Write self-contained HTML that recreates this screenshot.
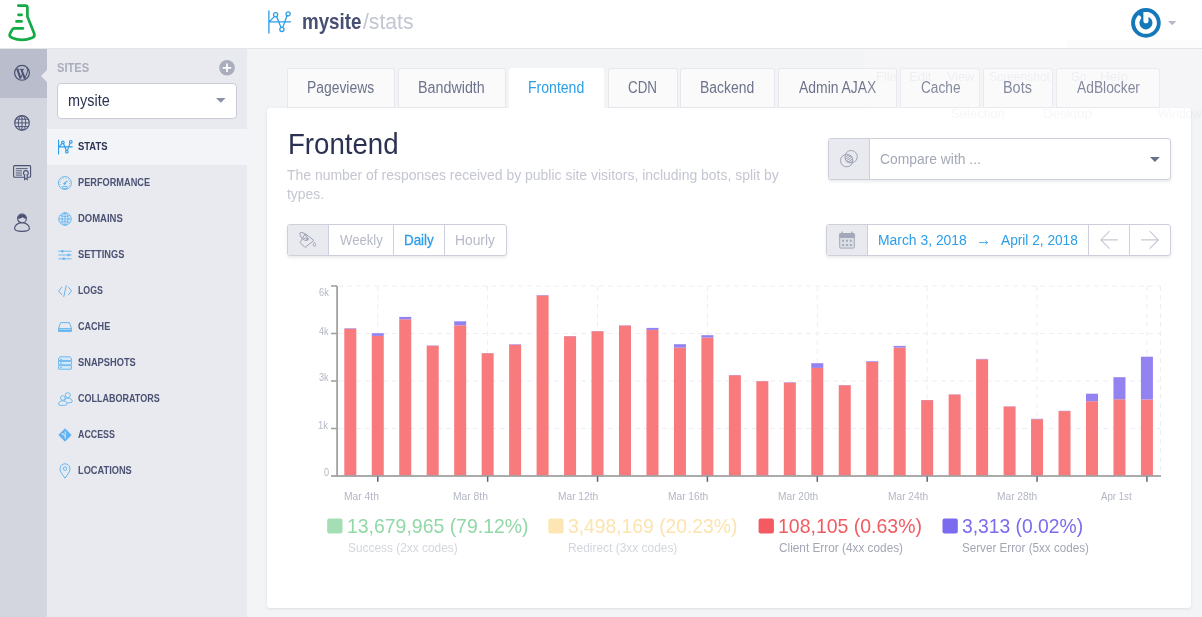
<!DOCTYPE html>
<html lang="en">
<head>
<meta charset="utf-8">
<title>mysite / stats</title>
<style>
*{box-sizing:border-box;margin:0;padding:0}
html,body{width:1202px;height:617px;overflow:hidden}
body{position:relative;background:#f3f4f6;font-family:"Liberation Sans",sans-serif;}
.t{position:absolute;white-space:nowrap;line-height:1;transform-origin:0 0;display:block}
#root{position:absolute;left:0;top:0;width:1202px;height:617px;will-change:transform}
#header{position:absolute;left:0;top:0;width:1202px;height:49px;background:#fff;border-bottom:1px solid #e3e5ea}
#iconcol{position:absolute;left:0;top:49px;width:47px;height:568px;background:#d3d5df}
#iconact{position:absolute;left:0;top:49px;width:47px;height:49px;background:#babecc}
#notch{position:absolute;left:41px;top:70px;width:0;height:0;border-top:6px solid transparent;border-bottom:6px solid transparent;border-right:6px solid #e9eaef}
#sidebar{position:absolute;left:47px;top:49px;width:200px;height:568px;background:#e9eaef}
#menuact{position:absolute;left:47px;top:129px;width:200px;height:36px;background:#f3f4f7}
#select{position:absolute;left:57px;top:83px;width:180px;height:36px;background:#fff;border:1px solid #c9ccd8;border-radius:4px}
.tab{position:absolute;top:68px;height:40px;background:#fafafb;border:1px solid #e6e8ed;border-bottom:1px solid #e7e9ee;border-radius:3px 3px 0 0}
.tab.on{background:#fff;border-color:#fff;z-index:3;height:44px}
#card{position:absolute;left:267px;top:108px;width:924px;height:500px;background:#fff;border-radius:3px;box-shadow:0 1px 3px rgba(60,70,100,.12);z-index:2}
#front{position:absolute;left:0;top:0;width:1202px;height:617px;z-index:5}
.grp{position:absolute;background:#fff;border:1px solid #cdd0db;border-radius:3px;box-shadow:0 2px 3px rgba(60,70,100,.10);overflow:hidden}
.addon{position:absolute;left:0;top:0;bottom:0;background:#e9eaef;border-right:1px solid #cdd0db}
.sep{position:absolute;top:0;bottom:0;width:1px;background:#cdd0db}
.sq{position:absolute;width:15.4px;height:15px;border-radius:2px;top:518.6px}
svg{position:absolute;overflow:visible}
</style>
</head>
<body>
<div id="root">
<div id="header"></div>
<div id="iconcol"></div><div id="iconact"></div>
<div id="sidebar"></div><div id="menuact"></div><div id="notch"></div>
<svg style="left:0;top:0" width="48" height="48" viewBox="0 0 48 48" fill="none" stroke="#14ab45" stroke-width="2.7" stroke-linecap="round" stroke-linejoin="round">
<path d="M18.3 5.6H25.4Q27.4 5.6 27.4 7.6V16.4L34.2 33.6Q35.2 36.6 32.3 37.7Q22 42.2 11.8 37.7Q8.8 36.4 10 33.6L12.2 29.6Q12.8 28.4 14.2 28.4H22.9"/>
<path d="M18.5 14.8H21.6M16.5 21.4H21.6"/>
</svg>
<svg style="left:268px;top:11.2px" width="23" height="22" viewBox="0 0 23 22" fill="none" stroke="#2b9eea" stroke-width="1.3" stroke-linecap="round"><path d="M0.9 0V22M0.9 10.8H22.5"/><path d="M1.2 10.8L6.4 5.6M8.6 5.6L13 16.4M14.8 16.4L19 4.8"/><circle cx="7.6" cy="3.8" r="2.1"/><circle cx="13.9" cy="18.4" r="2.1"/><circle cx="20.1" cy="2.9" r="2.1"/></svg>
<span class="t" style="left:301.93px;top:10.78px;font-size:22px;color:#475070;font-weight:700;transform:scaleX(0.8527);">mysite</span>
<span class="t" style="left:362.65px;top:10.78px;font-size:22px;color:#c3c6d1;transform:scaleX(0.9593);">/stats</span>
<svg style="left:1131px;top:8px" width="30" height="30" viewBox="0 0 30 30">
<circle cx="14.9" cy="14.9" r="14.8" fill="#1478b9"/>
<path d="M16 6.25A8.7 8.7 0 1 1 8 9.7" stroke="#fff" stroke-width="4.4" stroke-linecap="round" fill="none"/>
<path d="M12.4 4.05H17.5V12.8A2.55 2.55 0 0 1 12.4 12.8Z" fill="#fff"/>
</svg>
<svg style="left:1168px;top:21px" width="8.4" height="4.2" viewBox="0 0 8.4 4.2"><path d="M0 0H8.4L4.2 4.2Z" fill="#b5b9c6"/></svg>
<svg style="left:14px;top:65px" width="16" height="16" viewBox="0 0 16 16" fill="none" stroke="#4a5173">
<circle cx="8" cy="7.85" r="7.4" stroke-width="1.2"/>
<path d="M3.3 4.2L6.5 13.3M7.4 4.5L10.8 13.7" stroke-width="2"/>
<path d="M6.5 13.5L8.7 8.4M10.8 13.9L13.5 6.4Q14.1 4.2 12.6 2.9M2 4.2H5.3M5.9 4.4H10" stroke-width="1"/>
</svg>
<svg style="left:14px;top:115px" width="16" height="16" viewBox="0 0 16 16" fill="none" stroke="#4a5173" stroke-width="0.95">
<circle cx="8" cy="7.9" r="7.3" stroke-width="1.1"/>
<ellipse cx="8" cy="7.9" rx="3.7" ry="7.3"/>
<path d="M8 0.6V15.2M0.7 7.9H15.3M1.8 4.2H14.2M1.8 11.6H14.2"/>
</svg>
<svg style="left:13px;top:165px" width="18" height="16" viewBox="0 0 18 16" fill="none" stroke="#4a5173" stroke-width="1.1">
<rect x="0.6" y="0.6" width="17" height="11.6" rx="1"/>
<path d="M2.8 3.6H14.6M2.8 5.8H9M2.8 8H9M2.8 10.1H9" stroke-width="0.9"/>
<circle cx="12.9" cy="8" r="2.4" fill="#d3d5df"/>
<path d="M11.6 10V14.6L12.9 13.4L14.2 14.6V10" fill="#d3d5df"/>
</svg>
<svg style="left:14px;top:213px" width="16" height="19" viewBox="0 0 16 19" fill="none" stroke="#4a5173" stroke-width="1.1">
<path d="M8 9.6C3.5 9.6 0.6 12.6 0.6 15.6C0.6 17.6 4 18.4 8 18.4C12 18.4 15.4 17.6 15.4 15.6C15.4 12.6 12.5 9.6 8 9.6Z"/>
<circle cx="8" cy="5.4" r="4.4" fill="#d3d5df"/>
<path d="M3.6 5.6A4.4 4.4 0 0 1 12.4 5.6Q10.2 6 8.8 4.2Q6.6 6 3.6 5.6Z" fill="#4a5173" stroke="none"/>
</svg>
<span class="t" style="left:57.12px;top:61.64px;font-size:12px;color:#a9adbc;font-weight:700;transform:scaleX(0.9292);">SITES</span>
<svg style="left:219px;top:60px" width="16" height="16" viewBox="0 0 16 16"><circle cx="8" cy="7.8" r="7.8" fill="#a9adbc"/><path d="M8 3.6V12M3.8 7.8H12.2" stroke="#fff" stroke-width="1.7"/></svg>
<div id="select"></div>
<span class="t" style="left:67.91px;top:91.71px;font-size:17px;color:#2b3150;transform:scaleX(0.8485);">mysite</span>
<svg style="left:216.4px;top:98.3px" width="9.6" height="4.8" viewBox="0 0 9.6 4.8"><path d="M0 0H9.6L4.8 4.8Z" fill="#8b90a4"/></svg>
<span class="t" style="left:78.37px;top:141.09px;font-size:11px;color:#2d3354;font-weight:700;transform:scaleX(0.8572);">STATS</span>
<span class="t" style="left:78.05px;top:177.09px;font-size:11px;color:#4a5173;font-weight:700;transform:scaleX(0.8362);">PERFORMANCE</span>
<span class="t" style="left:78.03px;top:213.09px;font-size:11px;color:#4a5173;font-weight:700;transform:scaleX(0.8619);">DOMAINS</span>
<span class="t" style="left:78.37px;top:249.09px;font-size:11px;color:#4a5173;font-weight:700;transform:scaleX(0.8419);">SETTINGS</span>
<span class="t" style="left:78.08px;top:285.09px;font-size:11px;color:#4a5173;font-weight:700;transform:scaleX(0.7992);">LOGS</span>
<span class="t" style="left:78.29px;top:321.09px;font-size:11px;color:#4a5173;font-weight:700;transform:scaleX(0.8229);">CACHE</span>
<span class="t" style="left:78.37px;top:357.09px;font-size:11px;color:#4a5173;font-weight:700;transform:scaleX(0.8434);">SNAPSHOTS</span>
<span class="t" style="left:78.29px;top:393.09px;font-size:11px;color:#4a5173;font-weight:700;transform:scaleX(0.8186);">COLLABORATORS</span>
<span class="t" style="left:78.43px;top:429.09px;font-size:11px;color:#4a5173;font-weight:700;transform:scaleX(0.8061);">ACCESS</span>
<span class="t" style="left:78.05px;top:465.09px;font-size:11px;color:#4a5173;font-weight:700;transform:scaleX(0.8399);">LOCATIONS</span>
<svg style="left:58px;top:139.9px" width="14.6364" height="14" viewBox="0 0 23 22" fill="none" stroke="#2b9eea" stroke-width="1.72857" stroke-linecap="round"><path d="M0.9 0V22M0.9 10.8H22.5"/><path d="M1.2 10.8L6.4 5.6M8.6 5.6L13 16.4M14.8 16.4L19 4.8"/><circle cx="7.6" cy="3.8" r="2.1"/><circle cx="13.9" cy="18.4" r="2.1"/><circle cx="20.1" cy="2.9" r="2.1"/></svg>
<svg style="left:58px;top:176px" width="14" height="14" viewBox="0 0 14 14" fill="none" stroke="#5fb3f0" stroke-width="0.9">
<circle cx="6.9" cy="7" r="6.5"/><circle cx="6.9" cy="7" r="4.9" stroke-dasharray="1 1.55" stroke-width="0.9"/>
<path d="M6.6 7.6L9.4 4.6" stroke-width="1.2"/><circle cx="6.6" cy="7.6" r="0.9" fill="#5fb3f0"/>
<rect x="4.6" y="10.4" width="4.6" height="2" rx="0.4" fill="#e9eaef"/>
</svg>
<svg style="left:58px;top:212px" width="14" height="14" viewBox="0 0 14 14" fill="none" stroke="#5fb3f0" stroke-width="0.9">
<circle cx="7" cy="7" r="6.2"/><ellipse cx="7" cy="7" rx="3" ry="6.2"/><path d="M7 0.8V13.2M0.8 7H13.2" /><path d="M1.9 3.6Q7 5.6 12.1 3.6M1.9 10.4Q7 8.4 12.1 10.4" stroke-width="0.8"/>
</svg>
<svg style="left:58px;top:248px" width="14" height="14" viewBox="0 0 14 14" fill="none" stroke="#5fb3f0" stroke-width="0.9">
<path d="M0.4 3.2H13.6M0.4 7H13.6M0.4 10.8H13.6"/><path d="M4.4 2V4.4M10.6 5.8V8.2M5.8 9.6V12" stroke-width="1.8"/>
</svg>
<svg style="left:58px;top:284px" width="14" height="14" viewBox="0 0 14 14" fill="none" stroke="#5fb3f0" stroke-width="0.95" stroke-linecap="round" stroke-linejoin="round">
<path d="M3.8 3.2L0.6 7L3.8 10.8M10.4 3.2L13.6 7L10.4 10.8M8.2 1.6L5.8 12.6"/>
</svg>
<svg style="left:58px;top:320px" width="14" height="14" viewBox="0 0 14 14" fill="none" stroke="#5fb3f0" stroke-width="0.95" stroke-linejoin="round">
<path d="M2.6 2.6H11.4L13.5 8.4V11.4H0.5V8.4Z"/><path d="M0.5 8.6H13.5" /><path d="M1 10.4H13" stroke-width="1.6"/>
</svg>
<svg style="left:58px;top:356px" width="14" height="14" viewBox="0 0 14 14" fill="#d4e8f8" stroke="#5fb3f0" stroke-width="0.9" stroke-linejoin="round">
<path d="M2 0.8H12L13.5 2.6V4.6H0.5V2.6Z"/><rect x="0.5" y="5.4" width="13" height="3.4" rx="0.4"/><rect x="0.5" y="9.6" width="13" height="3.6" rx="0.4"/>
<path d="M2 3.4H4M2 7.1H4M2 11.4H4" stroke-width="0.8"/>
</svg>
<svg style="left:58px;top:392px" width="15" height="14" viewBox="0 0 15 14" fill="#e9eaef" stroke="#5fb3f0" stroke-width="0.9">
<circle cx="9.8" cy="3.2" r="2.5"/><path d="M6.2 10.4C6.2 7.6 7.6 6.2 9.8 6.2C12.4 6.2 14.2 7.6 14.2 9.4C14.2 10.6 12.4 10.8 9.8 10.8Z"/>
<circle cx="4.8" cy="6" r="2.3"/><path d="M0.6 12C0.6 10 2.2 8.8 4.8 8.8C7.4 8.8 9 10 9 12C9 13.2 7.4 13.4 4.8 13.4C2.2 13.4 0.6 13.2 0.6 12Z"/>
</svg>
<svg style="left:58px;top:428px" width="14" height="14" viewBox="0 0 14 14">
<path d="M7 0.8L13.2 7L7 13.2L0.8 7Z" fill="#5fb3f0" stroke="#5fb3f0" stroke-width="1" stroke-linejoin="round"/>
<path d="M7.2 3.4V10.6M5 6.2L7.2 8.4" stroke="#e9eaef" stroke-width="1" fill="none"/><circle cx="4.6" cy="5.8" r="0.9" fill="#e9eaef"/>
</svg>
<svg style="left:59px;top:463px" width="12" height="16" viewBox="0 0 12 16" fill="none" stroke="#5fb3f0" stroke-width="0.95">
<path d="M6 15.2C3 11 1 8.6 1 5.8A5 5 0 0 1 11 5.8C11 8.6 9 11 6 15.2Z"/><circle cx="6" cy="5.6" r="1.8"/>
</svg>
<div class="tab" style="left:287px;width:108px"></div>
<div class="tab" style="left:398px;width:108px"></div>
<div class="tab on" style="left:509px;width:95px"></div>
<div class="tab" style="left:608px;width:70px"></div>
<div class="tab" style="left:680px;width:95px"></div>
<div class="tab" style="left:778px;width:119px"></div>
<div class="tab" style="left:900px;width:80px"></div>
<div class="tab" style="left:983px;width:70px"></div>
<div class="tab" style="left:1056px;width:104px"></div>
<div id="card"></div>
<div id="front">
<span class="t" style="left:307.34px;top:79.69px;font-size:15.6px;color:#6d738b;transform:scaleX(0.8896);">Pageviews</span>
<span class="t" style="left:418.41px;top:79.69px;font-size:15.6px;color:#6d738b;transform:scaleX(0.9166);">Bandwidth</span>
<span class="t" style="left:528.43px;top:79.69px;font-size:15.6px;color:#2b9eea;transform:scaleX(0.9013);">Frontend</span>
<span class="t" style="left:628.18px;top:79.69px;font-size:15.6px;color:#6d738b;transform:scaleX(0.8600);">CDN</span>
<span class="t" style="left:700.33px;top:79.69px;font-size:15.6px;color:#6d738b;transform:scaleX(0.8935);">Backend</span>
<span class="t" style="left:799.05px;top:79.69px;font-size:15.6px;color:#6d738b;transform:scaleX(0.8929);">Admin AJAX</span>
<span class="t" style="left:920.87px;top:79.69px;font-size:15.6px;color:#6d738b;transform:scaleX(0.8761);">Cache</span>
<span class="t" style="left:1003.30px;top:79.69px;font-size:15.6px;color:#6d738b;transform:scaleX(0.9250);">Bots</span>
<span class="t" style="left:1076.85px;top:79.69px;font-size:15.6px;color:#6d738b;transform:scaleX(0.8853);">AdBlocker</span>
<span class="t" style="left:287.94px;top:129.34px;font-size:29.6px;color:#2b3150;transform:scaleX(0.9333);">Frontend</span>
<span class="t" style="left:286.97px;top:167.18px;font-size:15.5px;color:#c4c7d1;transform:scaleX(0.9001);">The number of responses received by public site visitors, including bots, split by</span>
<span class="t" style="left:287.34px;top:186.28px;font-size:15.5px;color:#c4c7d1;transform:scaleX(0.8947);">types.</span>
<div class="grp" style="left:828px;top:138px;width:343px;height:42px"><div class="addon" style="width:41px"></div></div>
<svg style="left:839px;top:149px" width="20" height="20" viewBox="0 0 20 20" fill="none" stroke="#9ea3b4" stroke-width="1">
<circle cx="7.7" cy="11.6" r="6.2"/><circle cx="12.1" cy="7.7" r="6.2"/>
<path d="M6.2 8.2L10.2 5.6M5.9 10.6L12.4 6.2M6.6 12.4L13.4 7.8M8.4 13.6L13.8 9.8M10.8 13.8L13.8 11.8" stroke-width="1"/>
</svg>
<span class="t" style="left:880.26px;top:151.08px;font-size:15.5px;color:#a4a8b6;transform:scaleX(0.8936);">Compare with ...</span>
<svg style="left:1150.3px;top:157px" width="9.8" height="4.9" viewBox="0 0 9.8 4.9"><path d="M0 0H9.8L4.9 4.9Z" fill="#6b7087"/></svg>
<div class="grp" style="left:287px;top:224px;width:220px;height:32px"><div class="addon" style="width:41px"></div><div class="sep" style="left:105px"></div><div class="sep" style="left:156px"></div></div>
<svg style="left:298px;top:231px" width="20" height="18" viewBox="0 0 20 18" fill="none" stroke="#9ea3b4" stroke-width="1" stroke-linejoin="round">
<path d="M7.2 2.6L15.8 9.4L7 16.5L2.1 11.6Z"/>
<ellipse cx="5.6" cy="5.4" rx="4.9" ry="2.3" transform="rotate(50 5.6 5.4)"/>
<path d="M5.6 7.4Q8 6.8 9.4 8.2" stroke-width="0.9"/><circle cx="9.6" cy="8.2" r="0.9"/>
<path d="M16.4 11.2C15.4 12.6 15.1 13.4 15.1 13.9A1.3 1.3 0 0 0 17.7 13.9C17.7 13.4 17.4 12.6 16.4 11.2Z" stroke-width="0.9"/>
</svg>
<span class="t" style="left:339.68px;top:231.68px;font-size:15.5px;color:#b6bac7;transform:scaleX(0.8463);">Weekly</span>
<span class="t" style="left:404.08px;top:231.68px;font-size:15.5px;color:#2b9eea;transform:scaleX(0.8632);-webkit-text-stroke:0.3px #2b9eea;">Daily</span>
<span class="t" style="left:455.15px;top:231.68px;font-size:15.5px;color:#b6bac7;transform:scaleX(0.8908);">Hourly</span>
<div class="grp" style="left:826px;top:224px;width:345px;height:32px"><div class="addon" style="width:41px"></div><div class="sep" style="left:261px"></div><div class="sep" style="left:302px"></div></div>
<svg style="left:839px;top:231px" width="16" height="18" viewBox="0 0 16 18" fill="none" stroke="#a4a8b8" stroke-width="1">
<rect x="0.7" y="2.7" width="14.6" height="14.4" rx="1" fill="#dcdee6"/><path d="M0.7 2.7H15.3V6.4H0.7Z" fill="#a4a8b8"/>
<path d="M3.2 0.4V2.4M12.8 0.4V2.4" stroke-width="1.3"/>
<path d="M3.1 9.8H5.1M7 9.8H9M10.8 9.8H12.8M3.1 14H5.1M7 14H9M10.8 14H12.8" stroke-width="1.9"/>
</svg>
<span class="t" style="left:877.64px;top:231.88px;font-size:15.5px;color:#2b9eea;transform:scaleX(0.8962);">March 3, 2018</span>
<svg style="left:979px;top:240px" width="9" height="5" viewBox="0 0 9 5" fill="none" stroke="#2b9eea" stroke-width="0.85"><path d="M0 2.6H8.6M6.6 0.7L8.6 2.6L6.6 4.5"/></svg>
<span class="t" style="left:1000.95px;top:231.88px;font-size:15.5px;color:#2b9eea;transform:scaleX(0.8830);">April 2, 2018</span>
<svg style="left:1100px;top:230px" width="19" height="20" viewBox="0 0 19 20" fill="none" stroke="#c6c9d4" stroke-width="1.15"><path d="M17.9 9.9H0.9M9.6 1.2L0.9 9.9L9.6 18.6"/></svg>
<svg style="left:1141px;top:230px" width="19" height="20" viewBox="0 0 19 20" fill="none" stroke="#c6c9d4" stroke-width="1.15"><path d="M0.1 9.9H17.4M8.7 1.2L17.4 9.9L8.7 18.6"/></svg>
<svg style="left:0;top:0" width="1202" height="617" viewBox="0 0 1202 617">
<path d="M338 286 H1161" stroke="#eceef1" stroke-width="1" stroke-dasharray="5 4" fill="none"/>
<path d="M338 333.5 H1161" stroke="#eceef1" stroke-width="1" stroke-dasharray="5 4" fill="none"/>
<path d="M338 381 H1161" stroke="#eceef1" stroke-width="1" stroke-dasharray="5 4" fill="none"/>
<path d="M338 428.5 H1161" stroke="#eceef1" stroke-width="1" stroke-dasharray="5 4" fill="none"/>
<path d="M377.77 286 V475" stroke="#eceef1" stroke-width="1" stroke-dasharray="5 4" fill="none"/>
<path d="M487.65 286 V475" stroke="#eceef1" stroke-width="1" stroke-dasharray="5 4" fill="none"/>
<path d="M597.53 286 V475" stroke="#eceef1" stroke-width="1" stroke-dasharray="5 4" fill="none"/>
<path d="M707.41 286 V475" stroke="#eceef1" stroke-width="1" stroke-dasharray="5 4" fill="none"/>
<path d="M817.29 286 V475" stroke="#eceef1" stroke-width="1" stroke-dasharray="5 4" fill="none"/>
<path d="M927.17 286 V475" stroke="#eceef1" stroke-width="1" stroke-dasharray="5 4" fill="none"/>
<path d="M1037.05 286 V475" stroke="#eceef1" stroke-width="1" stroke-dasharray="5 4" fill="none"/>
<path d="M1146.93 286 V475" stroke="#eceef1" stroke-width="1" stroke-dasharray="5 4" fill="none"/>
<path d="M1160.5 286 V475" stroke="#eceef1" stroke-width="1" stroke-dasharray="5 4" fill="none"/>
<rect x="344.30" y="328.70" width="12" height="147.30" fill="#f87a7c"/>
<rect x="344.30" y="328.20" width="12" height="0.50" fill="#9283f0"/>
<rect x="371.77" y="335.90" width="12" height="140.10" fill="#f87a7c"/>
<rect x="371.77" y="333.20" width="12" height="2.70" fill="#9283f0"/>
<rect x="399.24" y="319.30" width="12" height="156.70" fill="#f87a7c"/>
<rect x="399.24" y="316.90" width="12" height="2.40" fill="#9283f0"/>
<rect x="426.71" y="345.90" width="12" height="130.10" fill="#f87a7c"/>
<rect x="426.71" y="345.50" width="12" height="0.40" fill="#9283f0"/>
<rect x="454.18" y="325.30" width="12" height="150.70" fill="#f87a7c"/>
<rect x="454.18" y="321.30" width="12" height="4.00" fill="#9283f0"/>
<rect x="481.65" y="353.20" width="12" height="122.80" fill="#f87a7c"/>
<rect x="481.65" y="353.00" width="12" height="0.20" fill="#9283f0"/>
<rect x="509.12" y="344.70" width="12" height="131.30" fill="#f87a7c"/>
<rect x="509.12" y="344.20" width="12" height="0.50" fill="#9283f0"/>
<rect x="536.59" y="295.40" width="12" height="180.60" fill="#f87a7c"/>
<rect x="536.59" y="295.00" width="12" height="0.40" fill="#9283f0"/>
<rect x="564.06" y="336.20" width="12" height="139.80" fill="#f87a7c"/>
<rect x="564.06" y="336.00" width="12" height="0.20" fill="#9283f0"/>
<rect x="591.53" y="331.20" width="12" height="144.80" fill="#f87a7c"/>
<rect x="591.53" y="331.00" width="12" height="0.20" fill="#9283f0"/>
<rect x="619.00" y="325.60" width="12" height="150.40" fill="#f87a7c"/>
<rect x="619.00" y="325.30" width="12" height="0.30" fill="#9283f0"/>
<rect x="646.47" y="329.90" width="12" height="146.10" fill="#f87a7c"/>
<rect x="646.47" y="327.90" width="12" height="2.00" fill="#9283f0"/>
<rect x="673.94" y="347.60" width="12" height="128.40" fill="#f87a7c"/>
<rect x="673.94" y="344.20" width="12" height="3.40" fill="#9283f0"/>
<rect x="701.41" y="337.60" width="12" height="138.40" fill="#f87a7c"/>
<rect x="701.41" y="335.20" width="12" height="2.40" fill="#9283f0"/>
<rect x="728.88" y="375.20" width="12" height="100.80" fill="#f87a7c"/>
<rect x="728.88" y="375.00" width="12" height="0.20" fill="#9283f0"/>
<rect x="756.35" y="381.20" width="12" height="94.80" fill="#f87a7c"/>
<rect x="756.35" y="381.00" width="12" height="0.20" fill="#9283f0"/>
<rect x="783.82" y="382.60" width="12" height="93.40" fill="#f87a7c"/>
<rect x="783.82" y="382.20" width="12" height="0.40" fill="#9283f0"/>
<rect x="811.29" y="367.90" width="12" height="108.10" fill="#f87a7c"/>
<rect x="811.29" y="363.20" width="12" height="4.70" fill="#9283f0"/>
<rect x="838.76" y="385.20" width="12" height="90.80" fill="#f87a7c"/>
<rect x="838.76" y="385.00" width="12" height="0.20" fill="#9283f0"/>
<rect x="866.23" y="361.90" width="12" height="114.10" fill="#f87a7c"/>
<rect x="866.23" y="361.20" width="12" height="0.70" fill="#9283f0"/>
<rect x="893.70" y="347.60" width="12" height="128.40" fill="#f87a7c"/>
<rect x="893.70" y="345.90" width="12" height="1.70" fill="#9283f0"/>
<rect x="921.17" y="400.10" width="12" height="75.90" fill="#f87a7c"/>
<rect x="921.17" y="400.00" width="12" height="0.10" fill="#9283f0"/>
<rect x="948.64" y="394.50" width="12" height="81.50" fill="#f87a7c"/>
<rect x="948.64" y="394.30" width="12" height="0.20" fill="#9283f0"/>
<rect x="976.11" y="359.30" width="12" height="116.70" fill="#f87a7c"/>
<rect x="976.11" y="358.90" width="12" height="0.40" fill="#9283f0"/>
<rect x="1003.58" y="406.50" width="12" height="69.50" fill="#f87a7c"/>
<rect x="1003.58" y="406.30" width="12" height="0.20" fill="#9283f0"/>
<rect x="1031.05" y="419.20" width="12" height="56.80" fill="#f87a7c"/>
<rect x="1031.05" y="418.80" width="12" height="0.40" fill="#9283f0"/>
<rect x="1058.52" y="411.10" width="12" height="64.90" fill="#f87a7c"/>
<rect x="1058.52" y="410.80" width="12" height="0.30" fill="#9283f0"/>
<rect x="1085.99" y="401.20" width="12" height="74.80" fill="#f87a7c"/>
<rect x="1085.99" y="393.70" width="12" height="7.50" fill="#9283f0"/>
<rect x="1113.46" y="399.30" width="12" height="76.70" fill="#f87a7c"/>
<rect x="1113.46" y="377.20" width="12" height="22.10" fill="#9283f0"/>
<rect x="1140.93" y="399.50" width="12" height="76.50" fill="#f87a7c"/>
<rect x="1140.93" y="356.70" width="12" height="42.80" fill="#9283f0"/>
<rect x="336.2" y="286" width="1.8" height="191" fill="#a2a2a2"/>
<rect x="331" y="475.1" width="830" height="1.8" fill="#a2a2a2"/>
<rect x="331" y="285.2" width="6" height="1.6" fill="#a2a2a2"/>
<rect x="331" y="332.7" width="6" height="1.6" fill="#a2a2a2"/>
<rect x="331" y="380.2" width="6" height="1.6" fill="#a2a2a2"/>
<rect x="331" y="427.7" width="6" height="1.6" fill="#a2a2a2"/>
<rect x="377.02" y="476.4" width="1.5" height="5.4" fill="#5d6383"/>
<rect x="486.90" y="476.4" width="1.5" height="5.4" fill="#5d6383"/>
<rect x="596.78" y="476.4" width="1.5" height="5.4" fill="#5d6383"/>
<rect x="706.66" y="476.4" width="1.5" height="5.4" fill="#5d6383"/>
<rect x="816.54" y="476.4" width="1.5" height="5.4" fill="#5d6383"/>
<rect x="926.42" y="476.4" width="1.5" height="5.4" fill="#5d6383"/>
<rect x="1036.30" y="476.4" width="1.5" height="5.4" fill="#5d6383"/>
<rect x="1146.18" y="476.4" width="1.5" height="5.4" fill="#5d6383"/>
<rect x="327.2" y="518.5" width="15.3" height="15.1" rx="2" fill="#a3deb4"/><rect x="548.3" y="518.5" width="15.3" height="15.1" rx="2" fill="#fde6b4"/><rect x="758.6" y="518.5" width="15.3" height="15.1" rx="2" fill="#f35a62"/><rect x="942.5" y="518.5" width="15.3" height="15.1" rx="2" fill="#7a6bef"/>
</svg>
<span class="t" style="left:318.59px;top:286.81px;font-size:10.5px;color:#b3b7c4;transform:scaleX(0.8813);">6k</span>
<span class="t" style="left:318.87px;top:325.61px;font-size:10.5px;color:#b3b7c4;transform:scaleX(0.8558);">4k</span>
<span class="t" style="left:318.68px;top:372.21px;font-size:10.5px;color:#b3b7c4;transform:scaleX(0.8726);">3k</span>
<span class="t" style="left:318.34px;top:420.01px;font-size:10.5px;color:#b3b7c4;transform:scaleX(0.9038);">1k</span>
<span class="t" style="left:323.58px;top:467.41px;font-size:10.5px;color:#b3b7c4;transform:scaleX(0.8730);">0</span>
<span class="t" style="left:343.50px;top:490.91px;font-size:10.5px;color:#b3b7c4;transform:scaleX(0.9803);">Mar 4th</span>
<span class="t" style="left:453.38px;top:490.91px;font-size:10.5px;color:#b3b7c4;transform:scaleX(0.9803);">Mar 8th</span>
<span class="t" style="left:557.97px;top:490.91px;font-size:10.5px;color:#b3b7c4;transform:scaleX(0.9699);">Mar 12th</span>
<span class="t" style="left:667.85px;top:490.91px;font-size:10.5px;color:#b3b7c4;transform:scaleX(0.9699);">Mar 16th</span>
<span class="t" style="left:777.73px;top:490.91px;font-size:10.5px;color:#b3b7c4;transform:scaleX(0.9699);">Mar 20th</span>
<span class="t" style="left:887.61px;top:490.91px;font-size:10.5px;color:#b3b7c4;transform:scaleX(0.9699);">Mar 24th</span>
<span class="t" style="left:997.49px;top:490.91px;font-size:10.5px;color:#b3b7c4;transform:scaleX(0.9699);">Mar 28th</span>
<span class="t" style="left:1100.55px;top:490.91px;font-size:10.5px;color:#b3b7c4;transform:scaleX(0.9192);">Apr 1st</span>
<span class="t" style="left:346.79px;top:516.16px;font-size:20.6px;color:#92d8a6;transform:scaleX(0.9435);">13,679,965 (79.12%)</span>
<span class="t" style="left:347.72px;top:541.62px;font-size:12.5px;color:#d3d6dd;transform:scaleX(0.9509);">Success (2xx codes)</span>
<span class="t" style="left:568.28px;top:516.16px;font-size:20.6px;color:#fde3ae;transform:scaleX(0.9362);">3,498,169 (20.23%)</span>
<span class="t" style="left:568.10px;top:541.62px;font-size:12.5px;color:#d3d6dd;transform:scaleX(0.9538);">Redirect (3xx codes)</span>
<span class="t" style="left:778.29px;top:516.16px;font-size:20.6px;color:#f15b63;transform:scaleX(0.9454);">108,105 (0.63%)</span>
<span class="t" style="left:779.16px;top:541.62px;font-size:12.5px;color:#a3a7b4;transform:scaleX(0.9448);">Client Error (4xx codes)</span>
<span class="t" style="left:962.08px;top:516.16px;font-size:20.6px;color:#7a6bef;transform:scaleX(0.9363);">3,313 (0.02%)</span>
<span class="t" style="left:962.33px;top:541.62px;font-size:12.5px;color:#a3a7b4;transform:scaleX(0.9317);">Server Error (5xx codes)</span>
<div style="position:absolute;left:865px;top:49px;width:337px;height:59px;background:rgba(255,255,255,.16)"></div>
<div style="position:absolute;left:1067px;top:40px;width:135px;height:9px;background:rgba(200,204,214,.05)"></div>
<span class="t" style="left:876.31px;top:69.50px;font-size:13px;color:rgba(120,128,155,.09);transform:scaleX(0.9997);">File</span>
<span class="t" style="left:909.31px;top:69.50px;font-size:13px;color:rgba(120,128,155,.09);transform:scaleX(1.0021);">Edit</span>
<span class="t" style="left:947.29px;top:69.50px;font-size:13px;color:rgba(120,128,155,.09);transform:scaleX(0.9790);">View</span>
<span class="t" style="left:988.81px;top:69.50px;font-size:13px;color:rgba(120,128,155,.09);transform:scaleX(0.9268);">Screenshot</span>
<span class="t" style="left:1070.78px;top:69.50px;font-size:13px;color:rgba(120,128,155,.09);transform:scaleX(0.8835);">Go</span>
<span class="t" style="left:1100.26px;top:69.50px;font-size:13px;color:rgba(120,128,155,.09);transform:scaleX(1.0455);">Help</span>
<span class="t" style="left:950.76px;top:106.50px;font-size:13px;color:rgba(120,128,155,.07);transform:scaleX(1.0045);">Selection</span>
<span class="t" style="left:1043.28px;top:106.50px;font-size:13px;color:rgba(120,128,155,.07);transform:scaleX(1.0264);">Desktop</span>
<span class="t" style="left:1158.29px;top:106.50px;font-size:13px;color:rgba(120,128,155,.07);transform:scaleX(0.9369);">Window</span>
</div>
</div>
</body>
</html>
